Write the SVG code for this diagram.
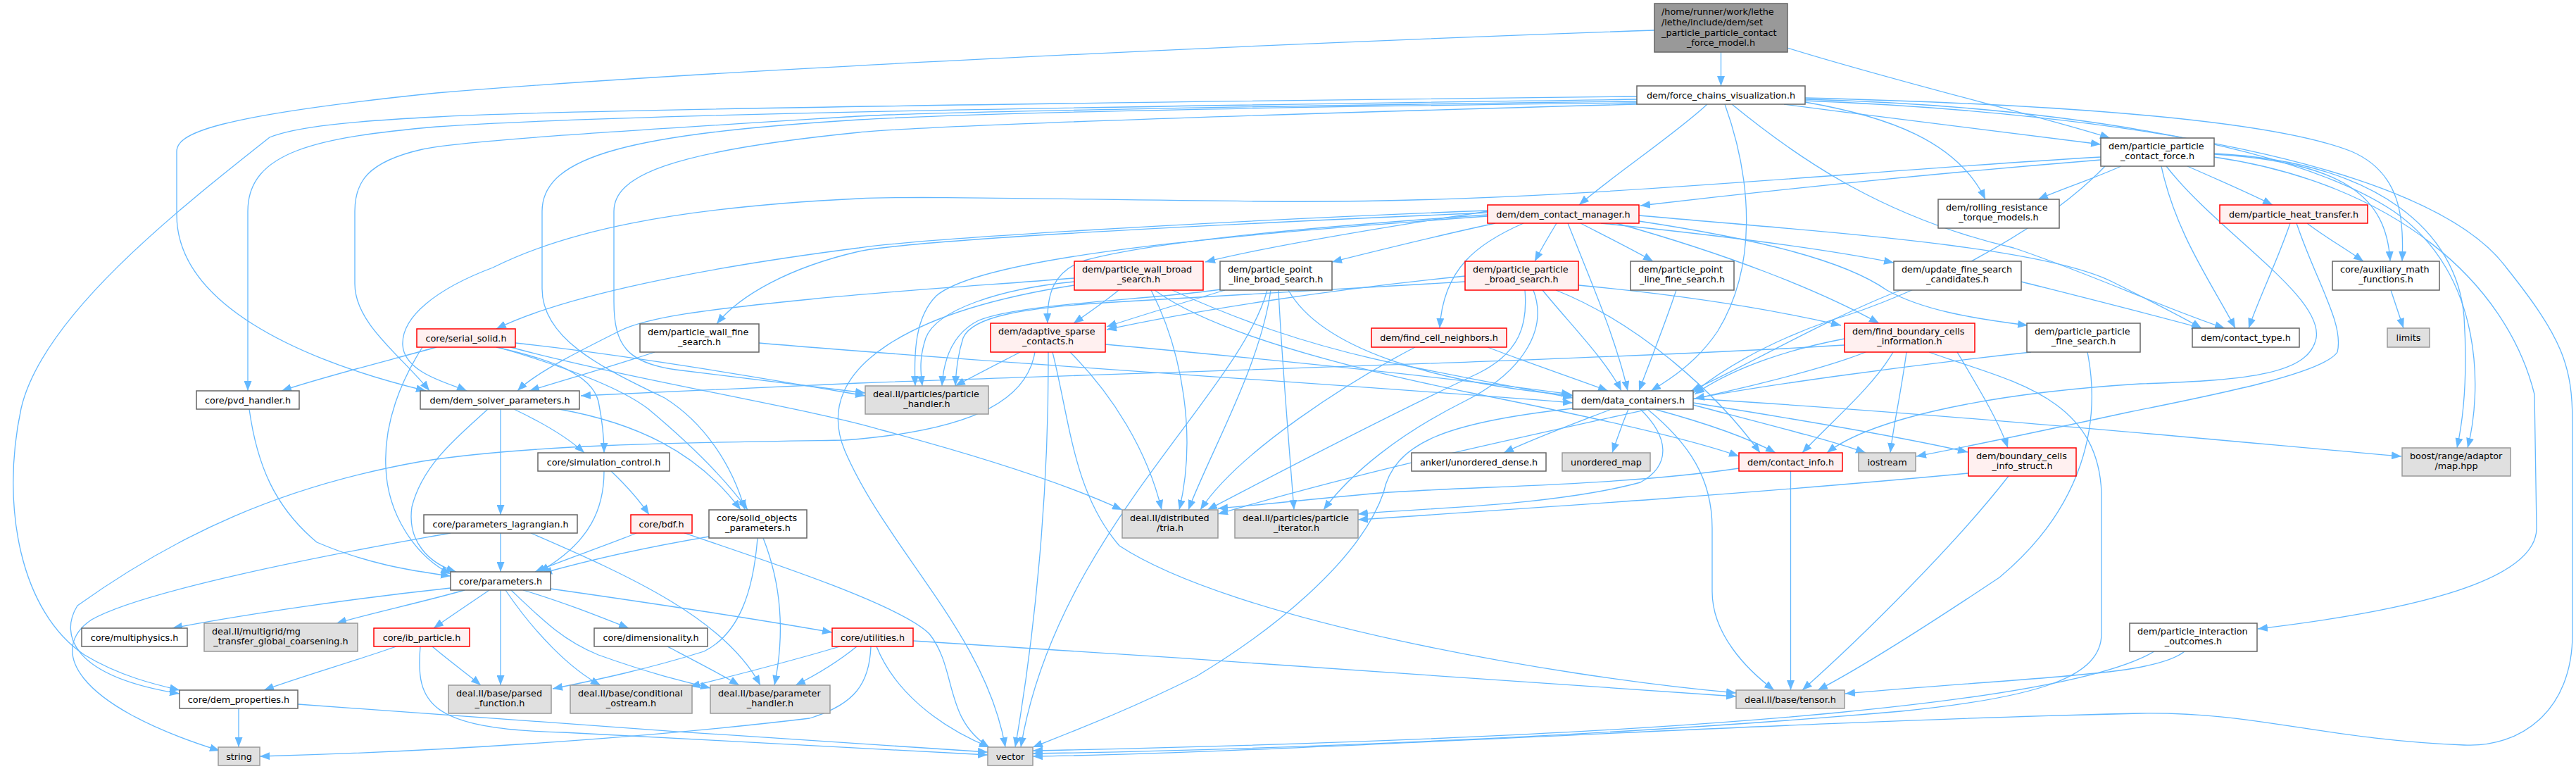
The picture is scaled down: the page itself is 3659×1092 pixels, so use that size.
<svg xmlns="http://www.w3.org/2000/svg" width="3659" height="1092" viewBox="0 0 3659 1092">
<style>
.n rect{stroke-width:1.5}
.w rect{fill:#ffffff;stroke:#666666}
.r rect{fill:#FFF0F0;stroke:#ff0000}
.g rect{fill:#E0E0E0;stroke:#999999}
.k rect{fill:#999999;stroke:#666666}
text{font-family:"DejaVu Sans","Liberation Sans",sans-serif;font-size:12.8px;fill:#000000}
.m{text-anchor:middle}
.s{text-anchor:start}
#edges path{fill:none;stroke:#63B8FF;stroke-width:1.3;marker-end:url(#a)}
</style>
<defs>
<marker id="a" markerUnits="userSpaceOnUse" markerWidth="14" markerHeight="11" refX="14" refY="5.5" orient="auto"><path d="M0,0 L14,5.5 L0,11 z" fill="#63B8FF"/></marker>
</defs>
<rect x="0" y="0" width="3659" height="1092" fill="#ffffff"/>
<g id="edges">
<path d="M2444.5,74 L2444.5,122"/>
<path d="M2539,68 C2700,118 2900,165 2997,196"/>
<path d="M2350,43 C1800,62 1000,100 620,132 C300,165 251,190 251,215 L251,305 C251,430 420,510 605,555"/>
<path d="M2425,148 C2380,190 2290,250 2243,291"/>
<path d="M2534,148 C2700,170 2880,192 2984,205"/>
<path d="M2564,145 C2680,165 2780,200 2820,283"/>
<path d="M2450,148 C2490,260 2495,380 2440,470 C2410,515 2370,540 2345,555"/>
<path d="M2460,148 C2560,230 2680,310 2860,352 C2960,385 3080,440 3160,466"/>
<path d="M2564,139 C2800,145 3200,160 3340,215 C3410,245 3415,310 3412,371"/>
<path d="M2564,141 C2900,150 3250,200 3400,300 C3530,390 3525,560 3505,636"/>
<path d="M2325,141 C1700,150 900,160 620,180 C450,195 352,215 352,300 L352,555"/>
<path d="M2325,137 C1600,145 800,155 620,166 C500,172 420,180 383,195 C250,300 60,450 30,580 C0,720 30,870 120,930 C170,960 220,972 255,980"/>
<path d="M2325,144 C1800,150 1300,160 1220,165 C900,185 650,200 600,212 C520,230 504,260 504,300 L504,403 C504,460 570,505 610,555"/>
<path d="M2325,146 C1800,152 1400,160 1220,170 C900,190 770,220 770,300 L770,410 C770,480 850,520 944,565 C1000,600 1040,660 1058,724"/>
<path d="M2325,148 C1700,165 1300,180 1220,188 C950,215 872,250 872,300 L872,428 C872,490 890,515 960,525 C1080,540 1180,552 1229,558"/>
<path d="M2564,143 C3000,160 3450,230 3560,380 C3640,480 3654,520 3654,600 L3654,900 C3654,1010 3580,1062 3500,1058 C3300,1050 3200,1010 3040,1013 C2500,1025 1800,1070 1467,1074"/>
<path d="M2984,227 C2700,250 2450,278 2330,292"/>
<path d="M2984,223 C2600,245 2200,290 1800,286 C1500,283 1300,278 1220,282 C950,295 800,330 700,380 C620,410 570,450 572,490 C574,530 640,545 663,555"/>
<path d="M3013,236 C2970,255 2930,268 2895,283"/>
<path d="M3107,236 C3150,255 3190,272 3228,291"/>
<path d="M3070,236 C3090,330 3140,400 3175,466"/>
<path d="M3145,219 C3330,230 3390,280 3395,371"/>
<path d="M3145,218 C3380,230 3490,330 3500,450 C3505,530 3500,590 3490,636"/>
<path d="M3145,223 C3400,260 3560,400 3600,560 L3603,750 C3603,830 3400,870 3207,893"/>
<path d="M3077,236 C3150,330 3300,420 3290,480 C3280,530 3200,540 3040,545 C2800,560 2650,600 2595,643"/>
<path d="M2990,236 C2900,330 2720,420 2600,455 C2500,490 2440,530 2405,558"/>
<path d="M3277,317 C3300,335 3330,352 3357,371"/>
<path d="M3253,317 C3235,370 3210,420 3194,466"/>
<path d="M3262,317 C3290,400 3330,460 3320,500 C3300,530 3150,560 3020,586 C2900,612 2790,635 2722,648"/>
<path d="M2124,317 C2040,335 1960,355 1892,372"/>
<path d="M2211,317 C2200,335 2190,352 2180,371"/>
<path d="M2245,317 C2280,335 2320,355 2348,371"/>
<path d="M2164,317 C2100,345 2050,380 2045,466"/>
<path d="M2227,317 C2260,400 2295,480 2312,555"/>
<path d="M2274,317 C2450,335 2600,355 2690,373"/>
<path d="M2296,317 C2450,360 2580,410 2669,459"/>
<path d="M2328,314 C2500,340 2620,370 2680,412 C2730,440 2800,452 2880,462"/>
<path d="M2328,306 C2600,330 2900,350 3000,400 C3060,430 3100,450 3127,466"/>
<path d="M2113,300 C1950,325 1800,350 1712,372"/>
<path d="M2113,305 C1900,320 1650,340 1540,370 C1495,385 1487,420 1488,459"/>
<path d="M2113,302 C1700,320 1300,340 1220,357 C1120,380 1050,420 1018,460"/>
<path d="M2113,299 C1700,315 1300,340 1220,352 C1000,380 800,420 705,467"/>
<path d="M2113,307 C1800,330 1400,360 1330,420 C1300,450 1298,500 1300,548"/>
<path d="M1589,412 C1570,428 1545,445 1525,459"/>
<path d="M1526,395 C1400,405 1280,412 1150,425 C1000,440 920,450 880,470 C820,500 760,530 735,555"/>
<path d="M1526,400 C1420,410 1330,440 1315,480 C1305,510 1308,530 1310,548"/>
<path d="M1665,412 C1750,450 1850,490 2000,520 C2100,540 2180,555 2234,565"/>
<path d="M1640,412 C1720,470 1900,520 2100,560 C2300,600 2420,630 2470,648"/>
<path d="M1635,412 C1680,500 1700,620 1675,724"/>
<path d="M1526,405 C1300,440 1150,520 1200,640 C1260,780 1400,900 1428,1061"/>
<path d="M1740,412 C1680,430 1620,448 1572,464"/>
<path d="M1830,412 C1880,500 2050,545 2236,562"/>
<path d="M1740,410 C1650,425 1450,430 1390,455 C1350,475 1340,515 1338,548"/>
<path d="M1816,412 C1820,500 1830,620 1838,724"/>
<path d="M1805,412 C1790,520 1720,640 1688,724"/>
<path d="M1800,412 C1760,560 1500,760 1450,1061"/>
<path d="M2081,392 C1900,410 1700,440 1572,468"/>
<path d="M2081,400 C1900,412 1750,420 1600,428 C1450,436 1380,450 1368,480 C1360,505 1358,525 1357,548"/>
<path d="M2191,412 C2230,460 2280,510 2303,555"/>
<path d="M2242,405 C2400,420 2520,440 2615,462"/>
<path d="M2210,412 C2330,460 2440,560 2500,643"/>
<path d="M2166,412 C2170,460 2160,500 2100,530 C1950,600 1800,680 1715,724"/>
<path d="M2178,412 C2200,470 2160,530 2080,570 C1990,615 1920,670 1880,724"/>
<path d="M2381,412 C2365,460 2345,510 2328,555"/>
<path d="M2700,412 C2600,450 2480,520 2402,555"/>
<path d="M2871,400 C2950,420 3050,445 3127,466"/>
<path d="M2113,493 C2170,515 2230,535 2284,555"/>
<path d="M2010,493 C1920,540 1760,640 1705,724"/>
<path d="M2620,490 C2300,510 1600,530 1220,544 C1050,552 900,558 825,562"/>
<path d="M2620,481 C2520,500 2450,530 2407,560"/>
<path d="M2689,500 C2660,550 2600,600 2560,643"/>
<path d="M2780,500 C2810,550 2840,600 2852,636"/>
<path d="M2708,500 C2700,560 2690,600 2685,643"/>
<path d="M2650,500 C2500,560 2100,620 1730,730"/>
<path d="M2740,500 C2850,540 2980,560 2985,700 L2985,900 C2985,960 2900,990 2700,1010 C2300,1045 1800,1065 1467,1070"/>
<path d="M2885,500 C2700,520 2500,548 2407,566"/>
<path d="M2965,500 C2985,600 2960,720 2840,820 C2720,900 2640,950 2582,980"/>
<path d="M3103,925 C3060,960 2900,960 2621,985"/>
<path d="M3060,925 C2950,990 2500,1045 1467,1066"/>
<path d="M2543.5,669 L2543.5,980"/>
<path d="M2470,665 C2300,690 2100,690 1960,700 C1850,710 1780,718 1730,722"/>
<path d="M2796,672 C2500,700 2200,720 1929,738"/>
<path d="M2853,676 C2780,770 2650,900 2560,980"/>
<path d="M2289,581 C2240,600 2180,622 2136,643"/>
<path d="M2313,581 C2305,600 2298,620 2290,643"/>
<path d="M2350,581 C2420,600 2480,620 2522,643"/>
<path d="M2405,575 C2500,600 2600,625 2650,643"/>
<path d="M2405,572 C2550,595 2700,620 2795,642"/>
<path d="M2405,566 C2800,590 3200,630 3411,648"/>
<path d="M2340,581 C2400,630 2432,680 2432,750 L2432,840 C2432,900 2480,950 2520,980"/>
<path d="M2330,581 C2370,620 2375,660 2330,685 C2200,720 2000,722 1929,730"/>
<path d="M2234,580 C2050,600 1980,630 1965,700 C1930,800 1800,900 1700,960 C1600,1010 1520,1040 1467,1061"/>
<path d="M620,493 C540,515 460,535 400,555"/>
<path d="M705,493 C780,510 840,530 850,570 C856,600 858,620 858,643"/>
<path d="M707,493 C800,520 880,550 920,580 C980,630 1030,680 1062,724"/>
<path d="M600,493 C570,540 545,600 548,663 C550,730 590,790 640,815"/>
<path d="M732,487 C900,505 1100,540 1229,562"/>
<path d="M725,493 C900,540 1150,580 1250,610 C1400,650 1520,690 1594,724"/>
<path d="M930,500 C870,520 800,540 752,555"/>
<path d="M1078,487 C1400,515 1900,545 2234,572"/>
<path d="M1449,500 C1420,515 1385,533 1357,548"/>
<path d="M1489,500 C1490,700 1470,900 1442,1061"/>
<path d="M1495,500 C1520,600 1525,700 1590,775 C1750,880 2200,960 2466,984"/>
<path d="M1520,500 C1580,560 1630,640 1650,724"/>
<path d="M1570,489 C1800,510 2050,535 2232,560"/>
<path d="M1470,500 C1460,560 1400,610 1200,625 C1000,628 760,630 600,655 C400,690 250,760 110,860 C85,900 100,960 255,985"/>
<path d="M354,581 C365,660 390,720 450,770 C520,800 580,810 640,818"/>
<path d="M730,581 C770,600 805,620 830,643"/>
<path d="M711,581 L711,731"/>
<path d="M693,581 C650,620 600,660 585,720 C578,770 610,800 648,812"/>
<path d="M794,581 C900,600 990,640 1052,724"/>
<path d="M868,669 C890,690 908,710 922,731"/>
<path d="M858,669 C858,720 840,770 766,812"/>
<path d="M711,757 L711,812"/>
<path d="M754,757 C900,820 1030,880 1080,973"/>
<path d="M640,757 C450,790 200,840 130,880 C70,920 100,1000 312,1066"/>
<path d="M904,757 C860,775 800,795 760,812"/>
<path d="M972,757 C1100,800 1280,860 1320,900 C1360,950 1340,1020 1405,1061"/>
<path d="M1007,762 C900,780 820,800 770,814"/>
<path d="M1076,764 C1070,840 1050,900 1000,925 C920,950 850,965 785,978"/>
<path d="M1084,764 C1110,830 1115,900 1100,973"/>
<path d="M640,835 C500,850 350,872 245,892"/>
<path d="M660,838 C600,855 530,870 478,885"/>
<path d="M695,838 C670,855 640,875 616,892"/>
<path d="M711,838 L711,973"/>
<path d="M718,838 C760,900 810,950 853,973"/>
<path d="M726,838 C770,880 800,910 850,930 C920,955 960,965 1009,977"/>
<path d="M743,838 C800,855 850,875 893,892"/>
<path d="M782,836 C950,860 1080,880 1182,898"/>
<path d="M563,918 C500,940 430,960 375,980"/>
<path d="M614,918 C640,940 665,958 683,973"/>
<path d="M597,918 C590,1000 610,1035 800,1040 C1000,1050 1250,1065 1403,1072"/>
<path d="M948,918 C990,940 1025,958 1050,973"/>
<path d="M1193,918 C1120,940 1040,960 980,975"/>
<path d="M1217,918 C1190,940 1160,958 1130,973"/>
<path d="M1237,918 C1235,970 1215,1000 1150,1020 C900,1050 600,1068 369,1074"/>
<path d="M1245,918 C1270,980 1330,1030 1405,1061"/>
<path d="M1297,910 C1700,935 2200,970 2466,989"/>
<path d="M339,1006 L339,1061"/>
<path d="M423,1000 C700,1020 1100,1050 1403,1068"/>
<path d="M3396,412 C3402,430 3408,448 3414,466"/>
</g>
<g id="root" class="n k"><rect x="2350" y="5" width="189" height="69"/><text class="s" x="2360" y="20.5">/home/runner/work/lethe</text><text class="s" x="2360" y="35.5">/lethe/include/dem/set</text><text class="s" x="2360" y="50.5">_particle_particle_contact</text><text class="m" x="2444.5" y="65">_force_model.h</text></g>
<g id="force_chains" class="n w"><rect x="2325" y="122" width="239" height="26"/><text class="m" x="2444.5" y="139.5">dem/force_chains_visualization.h</text></g>
<g id="pp_contact_force" class="n w"><rect x="2984" y="196" width="161" height="40"/><text class="s" x="2995" y="211.5">dem/particle_particle</text><text class="m" x="3064.5" y="226">_contact_force.h</text></g>
<g id="dem_contact_manager" class="n r"><rect x="2113" y="291" width="215" height="26"/><text class="m" x="2220.5" y="308.5">dem/dem_contact_manager.h</text></g>
<g id="particle_heat_transfer" class="n r"><rect x="3153" y="291" width="210" height="26"/><text class="m" x="3258" y="308.5">dem/particle_heat_transfer.h</text></g>
<g id="rolling_resistance" class="n w"><rect x="2753" y="283" width="172" height="41"/><text class="s" x="2764" y="298.5">dem/rolling_resistance</text><text class="m" x="2839" y="313">_torque_models.h</text></g>
<g id="pw_broad_search" class="n r"><rect x="1526" y="371" width="183" height="41"/><text class="s" x="1537" y="386.5">dem/particle_wall_broad</text><text class="m" x="1617.5" y="401">_search.h</text></g>
<g id="ppl_broad_search" class="n w"><rect x="1733" y="371" width="159" height="41"/><text class="s" x="1744" y="386.5">dem/particle_point</text><text class="m" x="1812.5" y="401">_line_broad_search.h</text></g>
<g id="pp_broad_search" class="n r"><rect x="2081" y="371" width="161" height="41"/><text class="s" x="2092" y="386.5">dem/particle_particle</text><text class="m" x="2161.5" y="401">_broad_search.h</text></g>
<g id="ppl_fine_search" class="n w"><rect x="2316" y="371" width="147" height="41"/><text class="s" x="2327" y="386.5">dem/particle_point</text><text class="m" x="2389.5" y="401">_line_fine_search.h</text></g>
<g id="update_fine_search" class="n w"><rect x="2690" y="371" width="181" height="41"/><text class="s" x="2701" y="386.5">dem/update_fine_search</text><text class="m" x="2780.5" y="401">_candidates.h</text></g>
<g id="auxiliary_math" class="n w"><rect x="3313" y="371" width="152" height="41"/><text class="s" x="3324" y="386.5">core/auxiliary_math</text><text class="m" x="3389" y="401">_functions.h</text></g>
<g id="serial_solid" class="n r"><rect x="592" y="467" width="140" height="26"/><text class="m" x="662" y="484.5">core/serial_solid.h</text></g>
<g id="pw_fine_search" class="n w"><rect x="909" y="460" width="169" height="40"/><text class="s" x="920" y="475.5">dem/particle_wall_fine</text><text class="m" x="993.5" y="490">_search.h</text></g>
<g id="adaptive_sparse" class="n r"><rect x="1407" y="459" width="163" height="41"/><text class="s" x="1418" y="474.5">dem/adaptive_sparse</text><text class="m" x="1488.5" y="489">_contacts.h</text></g>
<g id="find_cell_neighbors" class="n r"><rect x="1948" y="466" width="192" height="27"/><text class="m" x="2044" y="484">dem/find_cell_neighbors.h</text></g>
<g id="find_boundary_cells" class="n r"><rect x="2620" y="459" width="185" height="41"/><text class="s" x="2631" y="474.5">dem/find_boundary_cells</text><text class="m" x="2712.5" y="489">_information.h</text></g>
<g id="pp_fine_search" class="n w"><rect x="2879" y="459" width="161" height="41"/><text class="s" x="2890" y="474.5">dem/particle_particle</text><text class="m" x="2959.5" y="489">_fine_search.h</text></g>
<g id="contact_type" class="n w"><rect x="3114" y="466" width="152" height="27"/><text class="m" x="3190" y="484">dem/contact_type.h</text></g>
<g id="limits" class="n g"><rect x="3391" y="466" width="60" height="27"/><text class="m" x="3421" y="484">limits</text></g>
<g id="pvd_handler" class="n w"><rect x="279" y="555" width="146" height="26"/><text class="m" x="352" y="572.5">core/pvd_handler.h</text></g>
<g id="dem_solver_parameters" class="n w"><rect x="597" y="555" width="226" height="26"/><text class="m" x="710" y="572.5">dem/dem_solver_parameters.h</text></g>
<g id="particle_handler" class="n g"><rect x="1229" y="548" width="175" height="40"/><text class="s" x="1240" y="563.5">deal.II/particles/particle</text><text class="m" x="1316.5" y="578">_handler.h</text></g>
<g id="data_containers" class="n w"><rect x="2234" y="555" width="171" height="26"/><text class="m" x="2319.5" y="572.5">dem/data_containers.h</text></g>
<g id="simulation_control" class="n w"><rect x="764" y="643" width="187" height="26"/><text class="m" x="857.5" y="660.5">core/simulation_control.h</text></g>
<g id="ankerl" class="n w"><rect x="2005" y="643" width="191" height="26"/><text class="m" x="2100.5" y="660.5">ankerl/unordered_dense.h</text></g>
<g id="unordered_map" class="n g"><rect x="2219" y="643" width="125" height="26"/><text class="m" x="2281.5" y="660.5">unordered_map</text></g>
<g id="contact_info" class="n r"><rect x="2470" y="643" width="147" height="26"/><text class="m" x="2543.5" y="660.5">dem/contact_info.h</text></g>
<g id="iostream" class="n g"><rect x="2640" y="643" width="81" height="26"/><text class="m" x="2680.5" y="660.5">iostream</text></g>
<g id="boundary_cells_info" class="n r"><rect x="2796" y="636" width="153" height="40"/><text class="s" x="2807" y="651.5">dem/boundary_cells</text><text class="m" x="2872.5" y="666">_info_struct.h</text></g>
<g id="boost_map" class="n g"><rect x="3412" y="636" width="154" height="40"/><text class="s" x="3423" y="651.5">boost/range/adaptor</text><text class="m" x="3489" y="666">/map.hpp</text></g>
<g id="parameters_lagrangian" class="n w"><rect x="602" y="731" width="218" height="26"/><text class="m" x="711" y="748.5">core/parameters_lagrangian.h</text></g>
<g id="bdf" class="n r"><rect x="896" y="731" width="87" height="26"/><text class="m" x="939.5" y="748.5">core/bdf.h</text></g>
<g id="solid_objects" class="n w"><rect x="1007" y="724" width="139" height="40"/><text class="s" x="1018" y="739.5">core/solid_objects</text><text class="m" x="1076.5" y="754">_parameters.h</text></g>
<g id="distributed_tria" class="n g"><rect x="1594" y="724" width="136" height="40"/><text class="s" x="1605" y="739.5">deal.II/distributed</text><text class="m" x="1662" y="754">/tria.h</text></g>
<g id="particle_iterator" class="n g"><rect x="1754" y="724" width="175" height="40"/><text class="s" x="1765" y="739.5">deal.II/particles/particle</text><text class="m" x="1841.5" y="754">_iterator.h</text></g>
<g id="parameters" class="n w"><rect x="640" y="812" width="142" height="26"/><text class="m" x="711" y="829.5">core/parameters.h</text></g>
<g id="multiphysics" class="n w"><rect x="116" y="892" width="150" height="26"/><text class="m" x="191" y="909.5">core/multiphysics.h</text></g>
<g id="mg_transfer" class="n g"><rect x="290" y="885" width="218" height="40"/><text class="s" x="301" y="900.5">deal.II/multigrid/mg</text><text class="m" x="399" y="915">_transfer_global_coarsening.h</text></g>
<g id="ib_particle" class="n r"><rect x="531" y="892" width="136" height="26"/><text class="m" x="599" y="909.5">core/ib_particle.h</text></g>
<g id="dimensionality" class="n w"><rect x="844" y="892" width="161" height="26"/><text class="m" x="924.5" y="909.5">core/dimensionality.h</text></g>
<g id="utilities" class="n r"><rect x="1182" y="892" width="115" height="26"/><text class="m" x="1239.5" y="909.5">core/utilities.h</text></g>
<g id="interaction_outcomes" class="n w"><rect x="3025" y="885" width="181" height="40"/><text class="s" x="3036" y="900.5">dem/particle_interaction</text><text class="m" x="3115.5" y="915">_outcomes.h</text></g>
<g id="dem_properties" class="n w"><rect x="255" y="980" width="168" height="26"/><text class="m" x="339" y="997.5">core/dem_properties.h</text></g>
<g id="parsed_function" class="n g"><rect x="637" y="973" width="146" height="40"/><text class="s" x="648" y="988.5">deal.II/base/parsed</text><text class="m" x="710" y="1003">_function.h</text></g>
<g id="conditional_ostream" class="n g"><rect x="810" y="973" width="173" height="40"/><text class="s" x="821" y="988.5">deal.II/base/conditional</text><text class="m" x="896.5" y="1003">_ostream.h</text></g>
<g id="parameter_handler" class="n g"><rect x="1009" y="973" width="170" height="40"/><text class="s" x="1020" y="988.5">deal.II/base/parameter</text><text class="m" x="1094" y="1003">_handler.h</text></g>
<g id="tensor" class="n g"><rect x="2466" y="980" width="154" height="26"/><text class="m" x="2543" y="997.5">deal.II/base/tensor.h</text></g>
<g id="string" class="n g"><rect x="310" y="1061" width="59" height="26"/><text class="m" x="339.5" y="1078.5">string</text></g>
<g id="vector" class="n g"><rect x="1403" y="1061" width="64" height="26"/><text class="m" x="1435" y="1078.5">vector</text></g>
</svg>
